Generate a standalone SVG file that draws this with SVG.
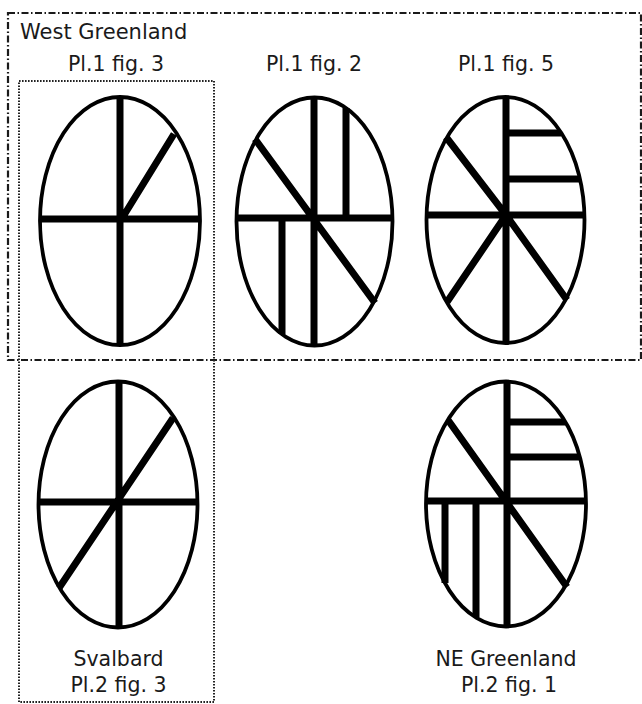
<svg xmlns="http://www.w3.org/2000/svg" width="642" height="704" viewBox="0 0 642 704">
<style>
text{font-family:"DejaVu Sans","Verdana",sans-serif;font-size:20.5px;fill:#1a1a1a}
.c{text-anchor:middle}
.oval{fill:none;stroke:#000;stroke-width:3.8}
.bar{stroke:#000;stroke-width:7;stroke-linecap:butt;fill:none}
.dd{fill:none;stroke:#1a1a1a;stroke-width:2.2;stroke-dasharray:7 2.5 1.5 2.5}
.dot{fill:none;stroke:#222;stroke-width:2;stroke-dasharray:1.6 1.4}
</style>
<rect width="642" height="704" fill="#fff"/>
<g id="west-greenland-frame">
<rect class="dd" x="8" y="13" width="633" height="347"/>
<text x="20" y="39" style="font-size:21px">West Greenland</text>
</g>
<g id="svalbard-frame">
<rect class="dot" x="19" y="81" width="195" height="621"/>
</g>
<g id="pl1-fig3">
<text class="c" x="116" y="71">Pl.1 fig. 3</text>
<ellipse class="oval" cx="120" cy="221" rx="80" ry="124"/>
<path class="bar" d="M40 219H200M120 97V345M121 220L174 134"/>
</g>
<g id="pl1-fig2">
<text class="c" x="314" y="71">Pl.1 fig. 2</text>
<ellipse class="oval" cx="314.5" cy="221.5" rx="78" ry="124"/>
<path class="bar" d="M236 218H393M314 97V346M346 108V218M282 218V334M255 139L375 303"/>
</g>
<g id="pl1-fig5">
<text class="c" x="506" y="71">Pl.1 fig. 5</text>
<ellipse class="oval" cx="505.5" cy="220" rx="79" ry="123"/>
<path class="bar" d="M427 215H584M506 97V343M506 133H561M506 179H580M446 137L506 215L447 302M506 215L567 300"/>
</g>
<g id="svalbard">
<ellipse class="oval" cx="118" cy="504.5" rx="79.5" ry="123"/>
<path class="bar" d="M39 502H197M119 382V627M173 418L59 588"/>
<text class="c" x="118.5" y="666">Svalbard</text>
<text class="c" x="118.5" y="692">Pl.2 fig. 3</text>
</g>
<g id="ne-greenland">
<ellipse class="oval" cx="506" cy="504" rx="80" ry="122.5"/>
<path class="bar" d="M426 501H586M507 382V626M507 422H565M507 457H580M448 420L567 587M445 501V583M476 501V617"/>
<text class="c" x="506" y="666">NE Greenland</text>
<text class="c" x="509" y="692">Pl.2 fig. 1</text>
</g>
</svg>
